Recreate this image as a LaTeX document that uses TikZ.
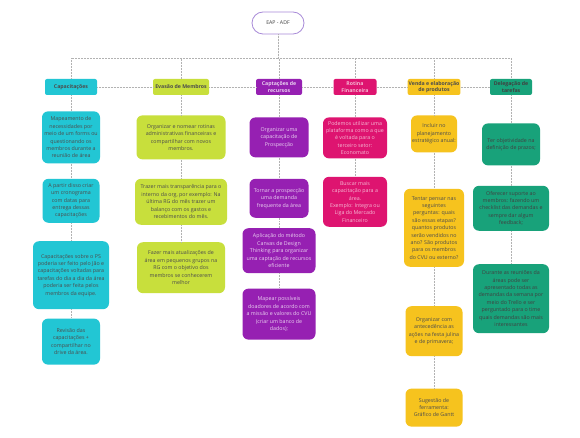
\documentclass[tikz,border=0pt]{standalone}
\usepackage{fontspec}
\setmainfont{Open Sans}
\usetikzlibrary{positioning}

\definecolor{ciano}{HTML}{22C6D4}
\definecolor{lima}{HTML}{C8DF3C}
\definecolor{roxo}{HTML}{9620B2}
\definecolor{rosa}{HTML}{DE1470}
\definecolor{amarelo}{HTML}{F6C31E}
\definecolor{verde}{HTML}{18A27A}
\definecolor{lilas}{HTML}{A88AD8}

\begin{document}
\begin{tikzpicture}[
    x=1pt, y=-1pt,
    raiz/.style={rectangle, draw=lilas, line width=0.8pt, fill=white, rounded corners=11pt,
                 minimum width=52pt, minimum height=22pt, font=\fontsize{5.2}{6}\selectfont, text=black!75},
    tema/.style={rectangle, rounded corners=2pt, inner sep=1pt, align=center,
                 minimum height=16pt, font=\fontsize{5.2}{6.2}\selectfont\bfseries},
    ideia/.style={rectangle, rounded corners=6pt, inner sep=1pt, align=center,
                  font=\fontsize{5.3}{7.4}\selectfont},
    tam/.style 2 args={minimum width=#1pt, minimum height=#2pt},
    capacit/.style={fill=ciano, text=black!70},
    evasao/.style={fill=lima, text=black!70},
    captacao/.style={fill=roxo, text=white!80!roxo},
    rotina/.style={fill=rosa, text=white!70!rosa},
    venda/.style={fill=amarelo, text=black!70},
    delega/.style={fill=verde, text=black!75},
    liga/.style={densely dotted, gray!60, line width=0.5pt}
]
\useasboundingbox (0,0) rectangle (580,438);
\fill[white] (0,0) rectangle (580,438);

% Raiz
\node[raiz] (raiz) at (278,23) {EAP - ADF};
\coordinate (barra) at (278,58);

% Temas
\node[tema, capacit, tam={52}{16}] (cap) at (71,87) {Capacitações};
\node[tema, evasao, tam={56}{16}] (eva) at (181,87) {Evasão de Membros};
\node[tema, captacao, tam={46}{16}] (capt) at (279,87) {Captações de\\recursos};
\node[tema, rotina, tam={43}{16}] (rot) at (355,87) {Rotina\\Financeira};
\node[tema, venda, tam={52}{16}] (ven) at (434,87) {Venda e elaboração\\de produtos};
\node[tema, delega, tam={42}{16}] (del) at (511,87) {Delegação de\\tarefas};

% Capacitações
\node[ideia, capacit, tam={58}{52}, below=16pt of cap] (cap1) {Mapeamento de\\necessidades por\\meio de um forms ou\\questionando os\\membros durante a\\reunião de área};
\node[ideia, capacit, tam={57}{44}, below=15pt of cap1] (cap2) {A partir disso criar\\um cronograma\\com datas para\\entrega dessas\\capacitações};
\node[ideia, capacit, tam={76}{68}, below=18pt of cap2] (cap3) {Capacitações sobre o PS\\poderia ser feito pelo Jão e\\capacitações voltadas para\\tarefas do dia a dia da área\\poderia ser feita pelos\\membros da equipe.};
\node[ideia, capacit, tam={58}{46}, below=9pt of cap3] (cap4) {Revisão das\\capacitações +\\compartilhar no\\drive da área.};

% Evasão de Membros
\node[ideia, evasao, tam={89}{44}, below=20pt of eva] (eva1) {Organizar e nomear rotinas\\administrativas financeiras e\\compartilhar com novos\\membros.};
\node[ideia, evasao, tam={92}{46}, below=19pt of eva1] (eva2) {Trazer mais transparência para o\\interno da org, por exemplo: Na\\última RG do mês trazer um\\balanço com os gastos e\\recebimentos do mês.};
\node[ideia, evasao, tam={88}{51}, below=17pt of eva2] (eva3) {Fazer mais atualizações de\\área em pequenos grupos na\\RG com o objetivo dos\\membros se conhecerem\\melhor};

% Captações de recursos
\node[ideia, captacao, tam={59}{40}, below=22pt of capt] (capt1) {Organizar uma\\capacitação de\\Prospecção};
\node[ideia, captacao, tam={59}{39}, below=21pt of capt1] (capt2) {Tornar a prospecção\\uma demanda\\frequente da área};
\node[ideia, captacao, tam={73}{45}, below=10pt of capt2] (capt3) {Aplicação do método\\Canvas de Design\\Thinking para organizar\\uma captação de recursos\\eficiente};
\node[ideia, captacao, tam={73}{51}, below=15pt of capt3] (capt4) {Mapear possíveis\\doadores de acordo com\\a missão e valores do CVU\\(criar um banco de\\dados);};

% Rotina Financeira
\node[ideia, rotina, tam={64}{41}, below=22pt of rot] (rot1) {Podemos utilizar uma\\plataforma como a que\\é voltada para o\\terceiro setor:\\Economato};
\node[ideia, rotina, tam={64}{50}, below=18pt of rot1] (rot2) {Buscar mais\\capacitação para a\\área.\\Exemplo: Integra ou\\Liga do Mercado\\Financeiro};

% Venda e elaboração de produtos
\node[ideia, venda, tam={46}{37}, below=20pt of ven] (ven1) {Incluir no\\planejamento\\estratégico anual:};
\node[ideia, venda, tam={60}{78}, below=36pt of ven1] (ven2) {Tentar pensar nas\\seguintes\\perguntas: quais\\são essas etapas?\\quantos produtos\\serão vendidos no\\ano? São produtos\\para os membros\\do CVU ou externo?};
\node[ideia, venda, tam={57}{50}, below=39pt of ven2] (ven3) {Organizar com\\antecedência as\\ações na festa julina\\e de primavera;};
\node[ideia, venda, tam={57}{38}, below=32pt of ven3] (ven4) {Sugestão de\\ferramenta:\\Gráfico de Gantt};

% Delegação de tarefas
\node[ideia, delega, tam={58}{42}, below=28pt of del] (del1) {Ter objetividade na\\definição de prazos;};
\node[ideia, delega, tam={76}{45}, below=20pt of del1] (del2) {Oferecer suporte ao\\membros: fazendo um\\checklist das demandas e\\sempre dar algum\\feedback;};
\node[ideia, delega, tam={76}{69}, below=33pt of del2] (del3) {Durante as reuniões da\\áreas pode ser\\apresentado todas as\\demandas da semana por\\meio do Trello e ser\\perguntado para o time\\quais demandas são mais\\interessantes};

% Ligações da raiz
\foreach \t in {cap, eva, capt, rot, ven, del}
  \draw[liga] (raiz.south) -- (barra) -| (\t.north);

% Ligações entre temas
\draw[liga] (cap) -- (eva);
\draw[liga] (eva) -- (capt);
\draw[liga] (capt) -- (rot);
\draw[liga] (rot) -- (ven);
\draw[liga] (ven) -- (del);

% Ligações nas colunas
\draw[liga] (cap) -- (cap1);
\draw[liga] (cap1) -- (cap2);
\draw[liga] (cap2) -- (cap3);
\draw[liga] (cap3) -- (cap4);
\draw[liga] (eva) -- (eva1);
\draw[liga] (eva1) -- (eva2);
\draw[liga] (eva2) -- (eva3);
\draw[liga] (capt) -- (capt1);
\draw[liga] (capt1) -- (capt2);
\draw[liga] (capt2) -- (capt3);
\draw[liga] (capt3) -- (capt4);
\draw[liga] (rot) -- (rot1);
\draw[liga] (rot1) -- (rot2);
\draw[liga] (ven) -- (ven1);
\draw[liga] (ven1) -- (ven2);
\draw[liga] (ven2) -- (ven3);
\draw[liga] (ven3) -- (ven4);
\draw[liga] (del) -- (del1);
\draw[liga] (del1) -- (del2);
\draw[liga] (del2) -- (del3);

\end{tikzpicture}
\end{document}
